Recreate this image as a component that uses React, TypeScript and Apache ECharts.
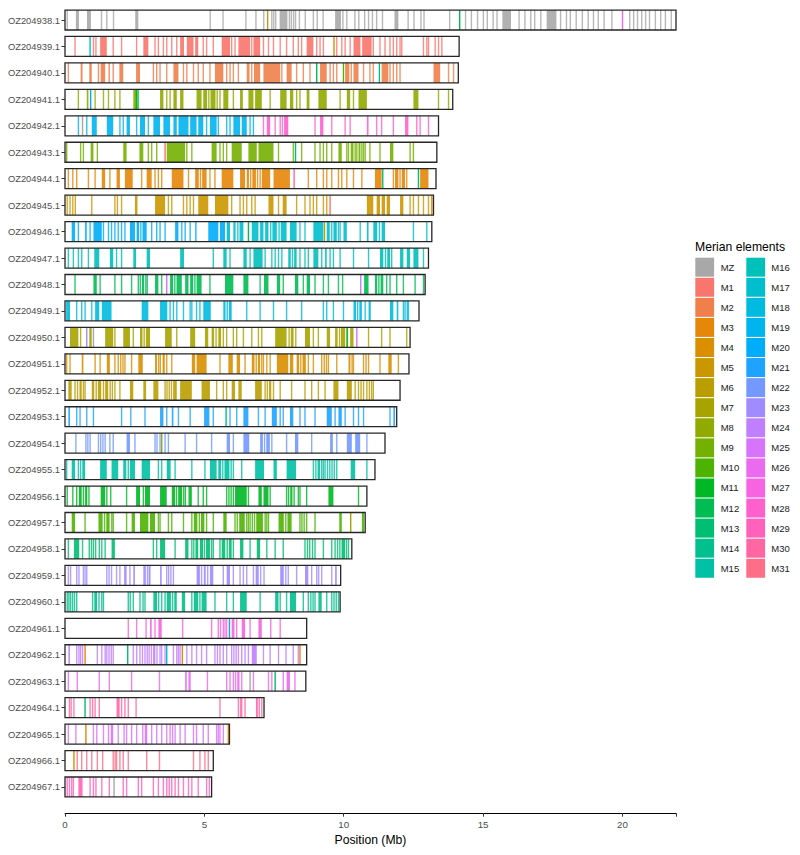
import { useEffect, useRef } from "react";
import * as echarts from "echarts";

// Chromosomes, top to bottom, and their lengths (Mb)
const chromosomes = [
  "OZ204938.1", "OZ204939.1", "OZ204940.1", "OZ204941.1", "OZ204942.1",
  "OZ204943.1", "OZ204944.1", "OZ204945.1", "OZ204946.1", "OZ204947.1",
  "OZ204948.1", "OZ204949.1", "OZ204950.1", "OZ204951.1", "OZ204952.1",
  "OZ204953.1", "OZ204954.1", "OZ204955.1", "OZ204956.1", "OZ204957.1",
  "OZ204958.1", "OZ204959.1", "OZ204960.1", "OZ204961.1", "OZ204962.1",
  "OZ204963.1", "OZ204964.1", "OZ204965.1", "OZ204966.1", "OZ204967.1",
];
const lengthsMb = [
  21.92, 14.14, 14.11, 13.91, 13.4, 13.34, 13.31, 13.22, 13.16, 13.04,
  12.92, 12.7, 12.38, 12.34, 12.02, 11.9, 11.48, 11.12, 10.83, 10.77,
  10.29, 9.89, 9.87, 8.67, 8.67, 8.64, 7.14, 5.9, 5.32, 5.26,
];

// Merian elements (legend order)
const elements = [
  "MZ", "M1", "M2", "M3", "M4", "M5", "M6", "M7", "M8", "M9", "M10",
  "M11", "M12", "M13", "M14", "M15", "M16", "M17", "M18", "M19", "M20",
  "M21", "M22", "M23", "M24", "M25", "M26", "M27", "M28", "M29", "M30", "M31",
];

// Gene positions (Mb): a number is a single locus, [start, end] a dense run
type G = number | [number, number];
const g938: G[] = [0.08, [0.39, 0.5], [0.79, 0.93], 1.31, 1.5, 1.74, [2.52, 2.63], 5.21, 5.67, 6.49, 6.85, 7.13, 7.42, 7.49, 7.56, [7.7, 7.98], 8.05, 8.12, 8.2, 8.27, 8.41, 8.62, 8.91, 9.05, 9.26, [9.69, 9.9], 9.97, 10.11, 10.4, 10.54, 10.75, 10.89, 11.03, 11.18, 11.39, [11.82, 11.96], 12.31, 12.52, 12.77, 12.88, 13.8, 14.37, 14.58, 14.8, 15.01, 15.15, 15.36, 15.5, [15.69, 16.0], 16.29, 16.5, 16.71, 16.85, 17.07, [17.28, 17.63], 17.78, 17.99, 18.13, 18.34, 18.56, 18.77, 18.96, 19.13, 19.34, 19.62, 20.26, 20.4, 20.54, 20.69, 20.83, 20.97, 21.18, 21.37, 21.54, 21.75];
const g939: G[] = [0.36, 1.02, 1.11, [1.26, 1.5], 1.73, 2.03, 2.57, [2.81, 2.99], 3.23, 3.35, 3.53, 3.65, 3.83, 4.01, [4.13, 4.27], [4.37, 4.61], [4.67, 4.78], 4.96, 5.08, 5.32, [5.62, 5.92], 5.98, 6.1, [6.22, 6.64], 6.7, [6.76, 7.0], 7.12, 7.3, 7.48, 7.72, 7.95, 8.19, 8.37, 8.49, [8.67, 8.91], 9.03, 9.15, 9.27, 9.75, 9.93, 10.05, 10.23, [10.35, 10.6], [10.66, 11.0], 11.06, 11.3, 11.48, 11.66, 11.78, 11.9, 12.02, 12.08, 12.86, 12.98, 13.04, 13.28, 13.4, 13.52];
const g940: G[] = [0.12, [0.56, 0.63], [0.87, 0.96], 1.2, [1.28, 1.44], [1.56, 1.61], 1.73, [1.95, 2.09], [2.55, 2.69], 3.17, 3.29, 3.41, 3.65, [3.89, 4.07], 4.25, 4.37, 4.61, 4.78, 4.96, 5.2, [5.38, 5.68], 5.8, 5.92, 6.04, 6.22, [6.52, 6.62], 6.7, [6.78, 7.0], [7.12, 7.72], 7.78, [7.95, 8.13], 8.31, 8.55, 8.79, [9.15, 9.39], 9.51, 9.63, 9.75, [10.05, 10.2], 10.27, [10.35, 10.53], 10.71, 10.94, 11.06, [11.36, 11.6], 11.66, 11.78, 11.9, 12.02, [13.22, 13.46], 13.76, 13.94];
const g941: G[] = [0.48, [0.78, 0.84], 1.08, 1.38, 1.56, 1.79, 1.97, [2.45, 2.55], [3.41, 3.53], 3.65, 3.77, [3.89, 4.01], [4.13, 4.25], [4.72, 4.9], [4.96, 5.1], 5.16, [5.22, 5.4], 5.46, 5.56, [5.68, 5.86], 6.04, [6.28, 6.38], [6.58, 6.76], [6.82, 7.06], 7.36, [7.72, 7.95], [8.07, 8.19], 8.31, 8.43, [8.67, 8.77], [9.09, 9.39], 9.87, [10.11, 10.23], 10.35, [10.53, 10.83], [12.5, 12.68], 13.4, 13.76];
const g942a: G[] = [0.48, 0.78, [0.96, 1.14], [1.5, 1.73], 1.97, 2.09, [2.21, 2.33], 2.57, [2.69, 2.87], 2.99, [3.17, 3.41], [3.53, 3.77], [3.89, 4.01], [4.07, 4.43], [4.49, 4.72], [4.78, 4.96], 5.08, [5.2, 5.44], 5.5, 5.8, 5.92, [6.04, 6.28], [6.34, 6.52], 6.64, 6.76];
const g942b: G[] = [7.12, [7.24, 7.36], 7.54, 7.72, 7.8, [7.86, 8.01], 8.97, [9.15, 9.27], 9.57, 10.05, 10.23, [10.83, 10.89], 11.18, 11.36, 11.78, [12.2, 12.32], 12.62, 12.74, 13.04];
const g943: G[] = [[0.04, 0.08], 0.56, 0.66, [0.92, 1.02], 1.16, [2.09, 2.21], [2.67, 2.81], 2.99, 3.11, 3.29, [3.65, 4.31], 4.37, 4.55, [5.26, 5.44], 5.56, 5.68, 5.8, [5.98, 6.34], [6.58, 6.88], [6.94, 7.48], 7.66, 8.19, 8.49, 8.97, 9.15, 9.27, 9.39, 9.57, [9.81, 9.93], 10.11, 10.17, [10.25, 10.35], 10.41, 10.47, [10.53, 10.6], 10.65, 10.71, 10.77, 10.94, 11.3, [11.66, 11.78], 12.38, 12.5];
const g944: G[] = [0.12, 0.28, 0.42, 0.84, 1.08, [1.32, 1.44], 1.61, [1.85, 1.97], [2.15, 2.43], 2.75, [2.93, 3.11], 3.23, 3.35, 3.47, [3.83, 4.25], 4.43, [4.67, 4.8], 4.86, [4.92, 5.08], 5.2, 5.38, [5.62, 6.04], [6.28, 6.46], [6.52, 6.6], 6.66, [6.72, 6.85], 6.91, 7.0, [7.06, 7.36], [7.48, 8.07], 8.73, 9.03, 9.27, 9.39, 9.57, 9.81, 9.93, 10.11, 10.35, 10.65, [11.12, 11.36], 11.78, [11.84, 11.96], 12.02, [12.08, 12.2], 12.26, [12.74, 13.04]];
const g945: G[] = [0.08, 0.18, 0.28, 0.37, 0.96, 1.79, 1.88, 2.03, [2.51, 2.6], [3.23, 3.59], 3.71, 3.83, 4.25, 4.37, 4.49, 4.61, [4.78, 5.14], [5.38, 5.86], 5.98, 6.28, 6.4, 6.52, 6.7, 6.82, [7.3, 7.48], 7.66, [7.81, 7.95], 8.31, 8.61, 8.79, 8.91, 9.03, 9.27, 9.39, [10.83, 11.06], [11.18, 11.3], [11.36, 11.48], [11.54, 11.66], [12.02, 12.14], 12.38, 12.5, 12.68, 12.86, 13.04];
const g946a: G[] = [[0.24, 0.36], 0.48, [0.72, 0.78], 0.9, [1.02, 1.32], 1.38, 1.56, 1.67, 1.79, 1.91, 2.03, 2.15, [2.33, 2.51], [2.57, 2.66], 2.72, [2.78, 2.93], 3.11, 3.29, 3.41, 3.59, [3.95, 4.07], 4.19, 4.31, 4.49, [4.67, 4.72], [5.14, 5.5], [5.56, 5.74]];
const g946b: G[] = [[5.8, 5.92], [6.04, 6.12], 6.2, [6.26, 6.4], [6.7, 6.94], [7.0, 7.12], [7.18, 7.3], 7.38, [7.44, 7.6], 7.68, [7.74, 7.95], [8.07, 8.31], 8.43, 8.61, [8.91, 9.27], [9.39, 9.5], 9.57, [9.63, 9.75], 9.81, 9.87, [9.99, 10.11], 10.59, [10.83, 10.89], [11.06, 11.2], 11.28, [11.36, 11.48], 12.5, 12.98];
const g947: G[] = [0.12, 0.3, 0.48, 0.6, 0.84, [1.05, 1.23], [1.61, 1.73], 1.85, 2.03, [2.45, 2.55], [2.93, 3.05], [4.13, 4.27], 5.32, [5.68, 5.8], 5.92, [6.4, 6.52], 6.64, [6.76, 7.09], 7.18, 7.42, 7.54, 7.66, 7.78, [8.01, 8.1], 8.16, [8.22, 8.31], 8.43, 8.61, 8.73, [8.91, 9.09], 9.21, [9.33, 9.39], 9.51, 9.63, 9.87, 10.35, 10.89, [11.3, 11.42], 11.5, [11.56, 11.66], 11.72, [12.02, 12.14], [12.26, 12.38], [12.5, 12.68], 12.86];
const g948: G[] = [0.36, [1.02, 1.14], 1.26, 1.79, 2.03, 2.39, 2.63, 2.7, [2.76, 2.84], 2.9, 2.95, [3.23, 3.35], 3.47, [3.77, 3.88], 3.94, [4.0, 4.19], [4.31, 4.43], [4.49, 4.6], 4.66, [4.72, 4.9], 5.2, [5.74, 6.04], [6.4, 6.58], 7.0, [7.14, 7.3], [7.6, 7.72], 7.83, [8.25, 8.37], 8.55, [8.67, 8.79], 8.97, 9.27, 9.45, 9.81, 9.96, [10.73, 10.89], [11.12, 11.2], 11.26, [11.32, 11.42], 11.54, 11.66, 11.9, 12.14, 12.56, 12.86];
const g949: G[] = [[0.04, 0.18], 0.42, 0.6, 0.72, 0.96, [1.08, 1.23], [1.32, 1.67], [2.75, 2.99], [3.41, 3.67], 3.77, 3.89, 4.01, 4.25, 4.49, 4.55, 4.72, 4.84, [4.96, 5.23], [5.68, 5.76], 5.82, [5.88, 5.98], 6.52, 7.0, 7.48, 7.95, 8.49, 9.27, 9.39, 9.63, 9.99, [10.35, 10.44], 10.5, [10.56, 10.65], 10.77, [10.89, 10.97], [11.66, 11.78], [11.9, 11.96], 12.14, 12.2, 12.28, 12.32];
const g950: G[] = [[0.18, 0.48], 0.56, [0.87, 0.96], [1.44, 1.73], 1.79, [2.09, 2.33], 2.45, [2.69, 2.78], 2.84, [2.9, 3.05], [3.59, 3.83], 4.01, [4.49, 4.67], [5.02, 5.14], [5.26, 5.35], 5.42, [5.5, 5.6], 5.68, 5.8, 6.04, 6.16, 6.4, 6.7, 6.94, 7.06, [7.54, 7.95], 8.04, [8.1, 8.2], 8.28, [8.61, 8.79], 8.91, 9.09, [9.39, 9.51], [9.69, 9.78], 9.85, [9.9, 10.05], 10.11, [10.23, 10.35], 10.89, 11.36, 11.66, 12.26];
const g951: G[] = [0.06, 0.18, [0.6, 0.66], 1.08, 1.26, [1.5, 1.61], 1.79, 1.91, 2.0, 2.08, 2.15, 2.39, [2.63, 2.79], [3.23, 3.3], 3.36, 3.42, [3.5, 3.58], 3.65, 3.83, [4.55, 4.67], [4.72, 5.08], 5.56, [5.86, 6.02], [6.16, 6.28], 6.46, [6.7, 6.8], 6.86, [6.92, 7.0], 7.06, 7.12, 7.24, 7.36, [7.6, 8.01], [8.07, 8.19], [8.31, 8.4], 8.46, [8.52, 8.64], 8.73, 8.91, 9.21, 9.3, 9.38, 9.45, 9.75, [10.17, 10.24], 10.3, 10.35, 10.71, 10.8, 10.89, 11.3, [11.6, 11.72], 11.96];
const g952: G[] = [[0.12, 0.24], 0.36, 0.45, [0.52, 0.6], 0.66, 0.72, [0.96, 1.05], 1.12, [1.18, 1.3], 1.38, [1.44, 1.55], 1.62, 1.7, 1.79, 1.97, [2.33, 2.45], [2.81, 2.91], [3.17, 3.35], 3.59, 3.66, 3.74, 3.82, [3.88, 4.01], [4.13, 4.55], [4.9, 5.2], 5.44, 5.68, 5.8, [5.98, 6.1], [6.22, 6.34], [6.82, 7.06], 7.18, 7.26, [7.32, 7.4], 7.48, 7.72, 8.13, 8.61, 8.85, 9.09, 9.33, [9.63, 9.81], [10.11, 10.29], 10.41, 10.53, 10.62, 10.71, 10.83, 10.92, 11.0, 11.06];
const g953: G[] = [[0.12, 0.18], 0.42, 0.54, 0.78, 1.02, 2.03, 2.36, 2.87, [3.41, 3.53], 3.65, [3.83, 3.89], 4.07, 4.49, [4.99, 5.18], 5.32, 5.92, 6.16, [6.4, 6.58], 6.94, 7.18, [7.42, 7.6], 7.72, 7.83, [8.07, 8.19], 8.43, 8.61, 8.97, [9.39, 9.57], 9.69, [9.81, 9.93], 10.05, 10.35, 10.53, 10.71, 11.66, [11.78, 11.84]];
const g954: G[] = [0.39, 0.75, 0.82, 0.9, 1.2, 1.28, 1.36, 1.44, 1.61, 1.73, [2.21, 2.33], 2.51, 3.23, 3.3, 3.41, 3.59, 3.71, 4.31, 4.72, 5.26, [5.8, 5.92], 6.04, [6.4, 6.61], [7.0, 7.1], 7.16, [7.22, 7.35], 7.42, 7.95, [8.25, 8.37], 8.85, [9.51, 9.61], 9.75, [10.11, 10.29], [10.41, 10.59], 10.83];
const g955: G[] = [0.06, [0.24, 0.36], 0.48, 0.56, [0.62, 0.72], [1.26, 1.5], [1.67, 1.91], [2.09, 2.2], 2.27, [2.33, 2.51], [2.75, 3.05], 3.35, 3.47, [3.65, 3.79], 3.95, 4.55, 5.02, [5.2, 5.44], [5.5, 5.6], 5.66, [5.72, 5.9], 5.96, 6.04, 6.34, [6.82, 7.14], [7.48, 7.6], [7.95, 8.29], 8.91, 9.0, [9.06, 9.15], 9.21, 9.27, 9.33, 9.42, 9.5, 9.58, 9.66, 9.75, [10.25, 10.41], 10.83];
const g956: G[] = [0.08, 0.28, 0.42, [0.5, 0.6], 0.66, [0.72, 0.8], 0.86, [1.28, 1.44], 1.5, 1.64, 2.21, [2.55, 2.69], 2.81, [2.87, 3.05], [3.41, 3.65], [3.83, 3.95], 4.0, [4.06, 4.2], 4.26, 4.32, [4.43, 4.55], 4.78, 4.96, 5.08, 5.8, 5.88, 5.96, 6.04, [6.1, 6.52], 6.58, [6.94, 7.06], [7.12, 7.3], 7.36, 7.95, 8.02, [8.08, 8.16], 8.22, 8.37, 8.43, 8.67, [9.45, 9.63], 10.53];
const g957: G[] = [[0.24, 0.36], 0.72, [1.2, 1.35], 1.42, [1.48, 1.6], 1.68, 1.73, 2.21, [2.39, 2.51], [2.69, 2.99], [3.05, 3.23], 3.35, 3.41, 3.71, 3.83, 4.25, 4.55, [4.62, 4.75], 4.82, [4.88, 5.0], 5.08, 5.32, [5.68, 5.8], 6.1, 6.18, [6.25, 6.45], 6.52, 6.58, 6.64, 6.72, 6.8, [6.86, 7.1], 7.18, 7.24, 7.3, [7.66, 7.85], 7.92, [7.98, 8.13], 8.43, 8.5, 8.58, 8.67, 8.97, [9.84, 9.93], [10.65, 10.73]];
const g958: G[] = [0.12, [0.32, 0.51], 0.63, 0.87, 0.95, 1.02, 1.1, 1.23, 1.32, 1.44, [1.67, 1.79], 3.17, 3.29, [3.41, 3.59], 3.95, [4.31, 4.43], 4.55, 4.62, [4.68, 4.78], [4.84, 4.95], 5.0, [5.06, 5.2], 5.26, 5.32, 5.56, [5.62, 5.75], 5.82, [5.88, 5.98], 6.04, [6.28, 6.4], 6.64, [6.88, 7.0], 7.24, 7.54, 7.83, 8.61, 8.7, 8.78, 8.88, 8.97, 9.27, 9.57, 9.69, 9.78, 9.86, [9.92, 10.05], 10.1, 10.17];
const g959: G[] = [0.12, 0.2, 0.42, 0.5, 0.66, 0.72, 0.78, 1.5, 1.58, 1.67, 1.85, 1.97, [2.12, 2.21], 2.33, [2.45, 2.51], [2.81, 2.9], 2.96, [3.0, 3.07], [3.41, 3.47], 3.65, 3.72, 3.8, 3.89, [4.72, 4.84], 4.9, [4.98, 5.05], 5.12, [5.2, 5.32], 5.68, [5.8, 5.92], 6.04, 6.28, 6.4, 6.52, 6.76, [6.84, 6.95], 7.02, 7.14, [7.72, 7.85], 7.92, 8.01, 8.31, [8.61, 8.73], 8.85, 9.03, 9.1, 9.21, 9.57, [9.69, 9.75]];
const g960: G[] = [0.08, 0.14, 0.2, 0.27, 0.34, 0.42, 0.99, [1.05, 1.15], 1.22, 1.32, 1.38, 2.27, 2.34, 2.45, 2.69, 2.8, 2.87, [3.17, 3.3], 3.36, 3.47, 3.59, [3.65, 3.8], 3.86, [3.92, 4.01], [4.19, 4.31], 4.55, [4.62, 4.78], 4.84, [4.9, 5.08], 5.38, 5.8, 6.04, [6.28, 6.52], 7.0, [7.54, 7.66], 7.72, 7.95, [8.07, 8.29], 8.55, 8.73, 8.82, 8.9, 8.97, [9.09, 9.21], 9.39, 9.57, 9.65, 9.73, 9.81];
const g961: G[] = [2.27, 2.57, 2.91, [3.05, 3.11], 3.23, [3.35, 3.47], 4.22, 5.26, 5.5, 5.58, 5.68, 5.74, 5.8, [5.98, 6.08], 6.16, [6.34, 6.46], 6.64, [6.94, 7.06], 7.38, 7.72];
const g962: G[] = [[0.12, 0.18], 0.42, 0.5, 0.56, 0.63, 1.16, 1.32, 1.44, 1.5, 1.58, 1.66, 1.73, 2.45, 2.57, 2.69, 2.78, 2.87, 2.95, 3.02, 3.1, [3.16, 3.24], 3.3, 3.41, 3.47, 3.59, 3.89, 4.01, 4.07, 4.13, 4.37, 4.55, 4.72, 4.9, 5.08, 5.38, 5.47, 5.56, 5.68, 5.8, 5.98, 6.06, 6.14, 6.22, 6.34, 6.46, 6.58, [6.7, 6.88], 7.12, 7.36, 7.66, 7.93, 8.19, 8.37];
const g963: G[] = [0.12, 0.44, 1.23, 1.59, 2.39, 3.39, [4.31, 4.37], [4.43, 4.51], 5.11, 5.8, 5.92, 6.04, 6.12, [6.18, 6.26], 6.34, 6.76, 7.3, 7.42, 7.83, [7.95, 8.07], 8.25];
const g964: G[] = [0.16, 0.22, 0.32, 0.9, 0.99, 1.08, 1.23, [1.85, 1.96], 2.03, 2.15, 2.27, 2.55, 5.56, 6.22, 6.3, 6.34, 6.46, [6.85, 6.92], 6.97, 7.06];
const g965: G[] = [0.12, 0.39, 1.02, 1.14, 1.38, 1.56, [1.64, 1.73], 1.91, 2.12, 2.21, 2.39, 2.57, 2.79, [2.86, 2.95], 3.11, 3.29, 3.47, 3.65, 3.77, 3.86, 3.95, 4.13, 4.31, 4.61, 4.72, 4.96, 5.14, 5.44, 5.5, 5.56, 5.68];
const g966: G[] = [0.44, 0.6, 0.78, 0.96, 1.16, 1.35, 1.73, 1.8, 1.85, 1.97, 2.09, 2.27, 2.93, 3.39, 4.61, 4.84, 5.02, 5.14];
const g967: G[] = [0.08, 0.16, 0.24, 0.3, [0.48, 0.63], 0.9, 1.02, 1.11, 1.32, 1.59, 2.09, 2.21, 2.63, 2.75, 3.17, 3.35, 3.53, 3.65, 3.74, 3.83, 3.95, 4.07, 4.25, 4.43, 4.55, 4.78, 5.08, 5.18];

// Which element each gene set belongs to
const tracks: [string, string, G[]][] = [
  ["OZ204938.1", "MZ", g938], ["OZ204939.1", "M1", g939], ["OZ204940.1", "M2", g940],
  ["OZ204941.1", "M8", g941], ["OZ204942.1", "M19", g942a], ["OZ204942.1", "M28", g942b],
  ["OZ204943.1", "M9", g943], ["OZ204944.1", "M3", g944], ["OZ204945.1", "M5", g945],
  ["OZ204946.1", "M20", g946a], ["OZ204946.1", "M17", g946b], ["OZ204947.1", "M16", g947],
  ["OZ204948.1", "M12", g948], ["OZ204949.1", "M18", g949], ["OZ204950.1", "M7", g950],
  ["OZ204951.1", "M4", g951], ["OZ204952.1", "M6", g952], ["OZ204953.1", "M21", g953],
  ["OZ204954.1", "M22", g954], ["OZ204955.1", "M15", g955], ["OZ204956.1", "M11", g956],
  ["OZ204957.1", "M10", g957], ["OZ204958.1", "M13", g958], ["OZ204959.1", "M23", g959],
  ["OZ204960.1", "M14", g960], ["OZ204961.1", "M27", g961], ["OZ204962.1", "M24", g962],
  ["OZ204963.1", "M26", g963], ["OZ204964.1", "M30", g964], ["OZ204965.1", "M25", g965],
  ["OZ204966.1", "M31", g966], ["OZ204967.1", "M29", g967],
];

// Single genes that sit on a chromosome of another element
const strayGenes: [string, number, string][] = [
  ["OZ204938.1", 7.27, "M5"], ["OZ204938.1", 14.16, "M12"], ["OZ204938.1", 20.0, "M26"],
  ["OZ204939.1", 0.9, "M17"], ["OZ204939.1", 9.65, "M3"],
  ["OZ204940.1", 9.03, "M12"], ["OZ204940.1", 9.99, "M10"], ["OZ204940.1", 11.28, "M14"],
  ["OZ204941.1", 0.92, "M20"], ["OZ204941.1", 2.56, "M11"], ["OZ204941.1", 2.62, "M11"],
  ["OZ204942.1", 0.63, "MZ"],
  ["OZ204943.1", 3.59, "M1"], ["OZ204943.1", 8.27, "M13"],
  ["OZ204944.1", 8.22, "M30"], ["OZ204944.1", 11.4, "M13"], ["OZ204944.1", 12.68, "M13"],
  ["OZ204945.1", 9.51, "M1"], ["OZ204945.1", 13.16, "M3"],
  ["OZ204946.1", 6.58, "M12"], ["OZ204946.1", 9.31, "M5"],
  ["OZ204948.1", 3.65, "M25"], ["OZ204948.1", 10.61, "M24"],
  ["OZ204950.1", 0.78, "M23"], ["OZ204950.1", 1.02, "MZ"], ["OZ204950.1", 10.13, "M12"], ["OZ204950.1", 10.47, "M25"],
  ["OZ204953.1", 5.78, "M14"],
  ["OZ204954.1", 3.47, "M8"],
  ["OZ204957.1", 10.25, "M7"],
  ["OZ204961.1", 5.9, "M20"],
  ["OZ204962.1", 0.72, "M3"], ["OZ204962.1", 2.25, "M13"], ["OZ204962.1", 3.65, "M16"], ["OZ204962.1", 4.21, "M3"], ["OZ204962.1", 8.43, "M3"],
  ["OZ204963.1", 6.64, "MZ"], ["OZ204963.1", 7.54, "M13"],
  ["OZ204964.1", 0.72, "M13"],
  ["OZ204965.1", 0.75, "M3"], ["OZ204965.1", 5.86, "M3"],
  ["OZ204966.1", 0.32, "M4"],
  ["OZ204967.1", 1.76, "MZ"],
];

const xTicks = [0, 5, 10, 15, 20];

// HCL (polar Luv) to sRGB hex, as used by ggplot's default hue palette
function hcl(h: number, c: number, l: number): string {
  const hr = (h * Math.PI) / 180;
  const U = c * Math.cos(hr);
  const V = c * Math.sin(hr);
  const Xn = 95.047, Yn = 100, Zn = 108.883;
  const Y = Yn * (l > 7.999592 ? Math.pow((l + 16) / 116, 3) : l / 903.3);
  const den = Xn + 15 * Yn + 3 * Zn;
  const un = (4 * Xn) / den, vn = (9 * Yn) / den;
  const u = U / (13 * l) + un;
  const v = V / (13 * l) + vn;
  const X = (9 * Y * u) / (4 * v);
  const Z = -X / 3 - 5 * Y + (3 * Y) / v;
  const x = X / 100, y = Y / 100, z = Z / 100;
  const lin = [
    3.240479 * x - 1.53715 * y - 0.498535 * z,
    -0.969256 * x + 1.875992 * y + 0.041556 * z,
    0.055648 * x - 0.204043 * y + 1.057311 * z,
  ];
  return (
    "#" +
    lin
      .map((t) => {
        const g = t <= 0.0031308 ? 12.92 * t : 1.055 * Math.pow(t, 1 / 2.4) - 0.055;
        const n = Math.round(Math.min(1, Math.max(0, g)) * 255);
        return n.toString(16).padStart(2, "0");
      })
      .join("")
  );
}

const nHue = elements.length - 1;
const palette = elements.map((e, i) =>
  e === "MZ" ? "#a8a8a8" : hcl(15 + ((i - 1) * 360) / nHue, 100, 65)
);

const FONT = "'Liberation Sans', Arial, Helvetica, sans-serif";

export default function App() {
  const ref = useRef<HTMLDivElement>(null);

  useEffect(() => {
    if (!ref.current) return;
    const chart = echarts.init(ref.current, null, { renderer: "svg" });

    // [chromosome index, start, end, element index, kind] ; kind 0 = single, 1 = run, 2 = stray
    const geneData: number[][] = [];
    tracks.forEach(([chr, el, genes]) => {
      const ci = chromosomes.indexOf(chr);
      const ei = elements.indexOf(el);
      genes.forEach((g) => {
        if (Array.isArray(g)) geneData.push([ci, g[0], g[1], ei, 1]);
        else geneData.push([ci, g, g, ei, 0]);
      });
    });
    strayGenes.forEach(([chr, pos, el]) => {
      geneData.push([chromosomes.indexOf(chr), pos, pos, elements.indexOf(el), 2]);
    });

    const frameData = chromosomes.map((_, i) => [i, lengthsMb[i]]);

    // Two-column legend, filled column by column
    const legendItems: any[] = [
      {
        type: "text",
        x: 695,
        y: 246.7,
        style: {
          text: "Merian elements",
          fontSize: 12.2,
          fontFamily: FONT,
          fill: "#000",
          verticalAlign: "middle",
        },
      },
    ];
    elements.forEach((el, i) => {
      const col = Math.floor(i / 16);
      const row = i % 16;
      const y = 257.7 + row * 20.07;
      legendItems.push({
        type: "rect",
        shape: { x: 695.3 + col * 51, y, width: 18.8, height: 19 },
        style: { fill: palette[i] },
      });
      legendItems.push({
        type: "text",
        x: 720.7 + col * 50.6,
        y: y + 9.5,
        style: {
          text: el,
          fontSize: 9.5,
          fontFamily: FONT,
          fill: "#1a1a1a",
          verticalAlign: "middle",
        },
      });
    });

    chart.setOption({
      animation: false,
      backgroundColor: "#ffffff",
      textStyle: { fontFamily: FONT },
      grid: { left: 65, right: 124, top: 6.8, bottom: 54.8, containLabel: false },
      xAxis: {
        type: "value",
        min: 0,
        max: 21.92,
        interval: 5,
        offset: 13,
        name: "Position (Mb)",
        nameLocation: "middle",
        nameGap: 21,
        nameTextStyle: { fontSize: 12.2, color: "#000", fontFamily: FONT },
        axisLine: { show: true, lineStyle: { color: "#000", width: 1 } },
        axisTick: { show: true, length: 3.5, lineStyle: { color: "#333", width: 1 } },
        axisLabel: {
          fontSize: 9.8,
          color: "#4d4d4d",
          margin: 6,
          fontFamily: FONT,
          formatter: (v: number) => (xTicks.includes(v) ? String(v) : ""),
        },
        splitLine: { show: false },
      },
      yAxis: {
        type: "category",
        data: chromosomes,
        inverse: true,
        axisLine: { show: false },
        axisTick: { show: true, alignWithLabel: true, length: 3.5, lineStyle: { color: "#333", width: 1 } },
        axisLabel: { fontSize: 9.4, color: "#4d4d4d", margin: 5, fontFamily: FONT },
        splitLine: { show: false },
      },
      series: [
        {
          type: "custom",
          name: "genes",
          data: geneData,
          encode: { x: [1, 2], y: 0 },
          renderItem: (_params: any, api: any) => {
            const ci = api.value(0);
            const p0 = api.coord([api.value(1), ci]);
            const p1 = api.coord([api.value(2), ci]);
            const band = api.size([0, 1])[1];
            const h = band * 0.756;
            const kind = api.value(4);
            let x = p0[0];
            let w = p1[0] - p0[0];
            if (w < 1.4) {
              x = (p0[0] + p1[0]) / 2 - 0.7;
              w = 1.4;
            }
            return {
              type: "rect",
              shape: { x, y: p0[1] - h / 2, width: w, height: h },
              style: {
                fill: palette[api.value(3)],
                opacity: kind === 0 ? 0.82 : kind === 1 ? 0.9 : 1,
              },
            };
          },
          z: 2,
        },
        {
          type: "custom",
          name: "chromosomes",
          data: frameData,
          encode: { x: 1, y: 0 },
          renderItem: (_params: any, api: any) => {
            const ci = api.value(0);
            const p0 = api.coord([0, ci]);
            const p1 = api.coord([api.value(1), ci]);
            const band = api.size([0, 1])[1];
            const h = band * 0.756;
            return {
              type: "rect",
              shape: { x: p0[0], y: p0[1] - h / 2, width: p1[0] - p0[0], height: h },
              style: { fill: "none", stroke: "#262626", lineWidth: 1.3 },
            };
          },
          z: 3,
        },
      ],
      graphic: legendItems,
    });

    return () => chart.dispose();
  }, []);

  return (
    <div
      ref={ref}
      style={{ position: "fixed", left: 0, top: 0, width: 800, height: 855, background: "#fff" }}
    />
  );
}
